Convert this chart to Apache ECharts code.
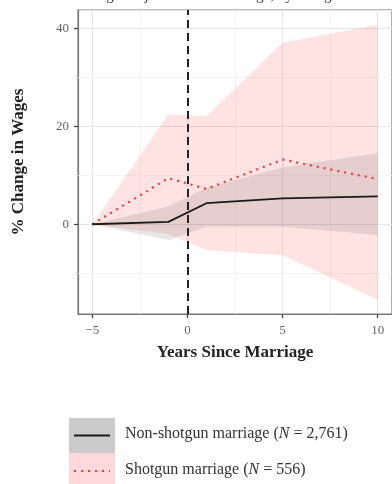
<!DOCTYPE html>
<html>
<head>
<meta charset="utf-8">
<script src="https://cdn.jsdelivr.net/npm/echarts@6/dist/echarts.min.js"></script>
<style>html,body{margin:0;padding:0;background:#fff;}#c{width:392px;height:484px;}</style>
</head>
<body>
<div id="c"></div>
<script>
// ---- data ----
const years = [-5, -1, 1, 5, 10];
const nonShotgun      = [0, 0.5, 4.3, 5.3, 5.7];
const nonShotgunLower = [0, -3.2, -0.5, -0.5, -2.2];
const nonShotgunUpper = [0, 3.6, 7.4, 11.6, 14.5];
const shotgun      = [0, 9.4, 7.2, 13.2, 9.2];
const shotgunLower = [0, -2.0, -5.3, -6.3, -15.4];
const shotgunUpper = [0, 22.4, 22.1, 37.0, 40.7];
const minorX = [-2.5, 2.5, 7.5];
const minorY = [-10, 10, 30];
const markerYear = 0;
const legendLabels = ['Non-shotgun marriage', 'Shotgun marriage'];
const legendN = ['2,761', '556'];

const FONT = "'Liberation Serif', 'DejaVu Serif', serif";
const chart = echarts.init(document.getElementById('c'), null, {renderer: 'canvas'});

function band(lower, upper, color, z) {
  return {
    type: 'custom', z: z, silent: true,
    data: [[years[0], 0]],
    renderItem: function (params, api) {
      const pts = [];
      for (let i = 0; i < years.length; i++) pts.push(api.coord([years[i], upper[i]]));
      for (let i = years.length - 1; i >= 0; i--) pts.push(api.coord([years[i], lower[i]]));
      return {type: 'polygon', shape: {points: pts}, style: {fill: color}};
    }
  };
}
const pairs = a => years.map((x, i) => [x, a[i]]);
const legendText = (i) => '{a|' + legendLabels[i] + ' (}{i|N}{a| = ' + legendN[i] + ')}';
const rich = {a: {font: '16px ' + FONT, fill: '#333'}, i: {font: 'italic 16px ' + FONT, fill: '#333'}};

chart.setOption({
  animation: false,
  backgroundColor: '#fff',
  grid: {left: 78, right: -3, top: 10, bottom: 170, show: true, borderColor: '#777', borderWidth: 1.2, backgroundColor: 'transparent'},
  xAxis: {
    type: 'value', min: -5.75, max: 10.75, splitNumber: 3,
    name: 'Years Since Marriage', nameLocation: 'middle', nameGap: 30,
    nameTextStyle: {fontFamily: FONT, fontWeight: 'bold', fontSize: 17, color: '#222'},
    axisLine: {show: true, onZero: false, lineStyle: {color: '#777', width: 1.2}},
    axisTick: {show: true, length: 4, lineStyle: {color: '#444', width: 1.3}},
    axisLabel: {showMinLabel: false, showMaxLabel: false, margin: 10, color: '#666', fontFamily: FONT, fontSize: 13,
      formatter: v => String(v).replace('-', '\u2212')},
    splitLine: {show: true, lineStyle: {color: '#e6e6e6', width: 1}}
  },
  yAxis: {
    type: 'value', min: -18.3, max: 43.7, splitNumber: 3,
    name: '% Change in Wages', nameLocation: 'middle', nameGap: 51,
    nameTextStyle: {fontFamily: FONT, fontWeight: 'bold', fontSize: 17, color: '#222'},
    axisLine: {show: true, onZero: false, lineStyle: {color: '#777', width: 1.2}},
    axisTick: {show: true, length: 4, lineStyle: {color: '#444', width: 1.3}},
    axisLabel: {showMinLabel: false, showMaxLabel: false, margin: 9, color: '#666', fontFamily: FONT, fontSize: 13,
      formatter: v => String(v).replace('-', '\u2212')},
    splitLine: {show: true, lineStyle: {color: '#e6e6e6', width: 1}}
  },
  series: [
    {
      type: 'line', data: [], z: 1, silent: true,
      markLine: {
        z: 1, silent: true, symbol: 'none', label: {show: false},
        lineStyle: {color: '#f1f1f1', width: 0.8, type: 'solid'},
        data: minorX.map(v => ({xAxis: v})).concat(minorY.map(v => ({yAxis: v})))
      }
    },
    band(shotgunLower, shotgunUpper, 'rgba(255,0,0,0.11)', 2),
    band(nonShotgunLower, nonShotgunUpper, 'rgba(90,90,90,0.15)', 2),
    {
      type: 'line', data: pairs(shotgun), z: 3, symbol: 'none', silent: true,
      lineStyle: {color: '#f03a3a', width: 2.2, type: [2, 5]}
    },
    {
      type: 'line', data: pairs(nonShotgun), z: 3, symbol: 'none', silent: true,
      lineStyle: {color: '#1a1a1a', width: 1.8},
      markLine: {
        z: 5, silent: true, symbol: 'none', label: {show: false},
        lineStyle: {color: '#222', width: 2, type: [8, 5]},
        data: [{xAxis: markerYear}]
      }
    }
  ],
  graphic: [
    {type: 'text', left: -25, top: -11, silent: true,
     style: {text: 'Figure 2. Relative Wage Trajectories of Marriage, by Shotgun Status', font: '15px ' + FONT, fill: '#333'}},
    {type: 'rect', left: 69, top: 418, shape: {width: 46, height: 35}, style: {fill: '#cbcbcb'}},
    {type: 'line', shape: {x1: 74, y1: 435.5, x2: 110, y2: 435.5}, style: {stroke: '#1a1a1a', lineWidth: 1.8}},
    {type: 'rect', left: 69, top: 453, shape: {width: 46, height: 36}, style: {fill: '#ffd9d9'}},
    {type: 'line', shape: {x1: 74, y1: 471, x2: 110, y2: 471}, style: {stroke: '#f03a3a', lineWidth: 2, lineDash: [2, 5]}},
    {type: 'text', left: 125, top: 426, silent: true, style: {rich: rich, text: legendText(0)}},
    {type: 'text', left: 125, top: 462, silent: true, style: {rich: rich, text: legendText(1)}}
  ]
});
</script>
</body>
</html>
